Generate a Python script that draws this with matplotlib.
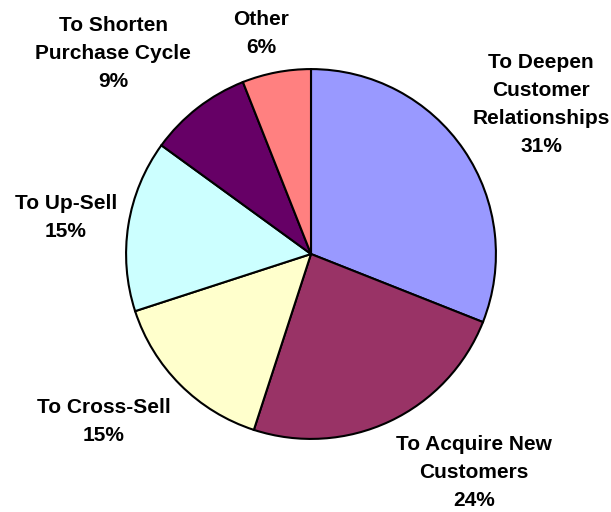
import matplotlib
matplotlib.use("Agg")
import matplotlib.pyplot as plt

# Data
labels = ["To Deepen\nCustomer\nRelationships", "To Acquire New\nCustomers",
          "To Cross-Sell", "To Up-Sell", "To Shorten\nPurchase Cycle", "Other"]
shares = [31, 24, 15, 15, 9, 6]
colors = ["#9999FF", "#993366", "#FFFFCC", "#CCFFFF", "#660066", "#FF8080"]

# label centres in pie units (radius = 1)
label_xy = [(1.25, 0.815), (0.886, -1.19), (-1.125, -0.908),
            (-1.332, 0.196), (-1.076, 1.092), (-0.272, 1.201)]

plt.rcParams['font.family'] = ['Liberation Sans', 'DejaVu Sans']

fig = plt.figure(figsize=(6.11, 5.12), dpi=100)
ax = fig.add_axes([0, 0, 1, 1])

ax.pie(shares, colors=colors, startangle=90, counterclock=False, radius=1.005,
       wedgeprops=dict(edgecolor="black", linewidth=1.5))

for lab, val, (x, y) in zip(labels, shares, label_xy):
    ax.text(x, y, f"{lab}\n{val}%", ha="center", va="center",
            fontsize=15, fontweight="bold", linespacing=1.6)

# pie centre at about (311, 254) px, radius 184 px
ax.set_aspect("auto")
ax.set_xlim(-311 / 184, 300 / 184)
ax.set_ylim(-258 / 184, 254 / 184)
ax.axis("off")

fig.savefig("out.png", dpi=100)
